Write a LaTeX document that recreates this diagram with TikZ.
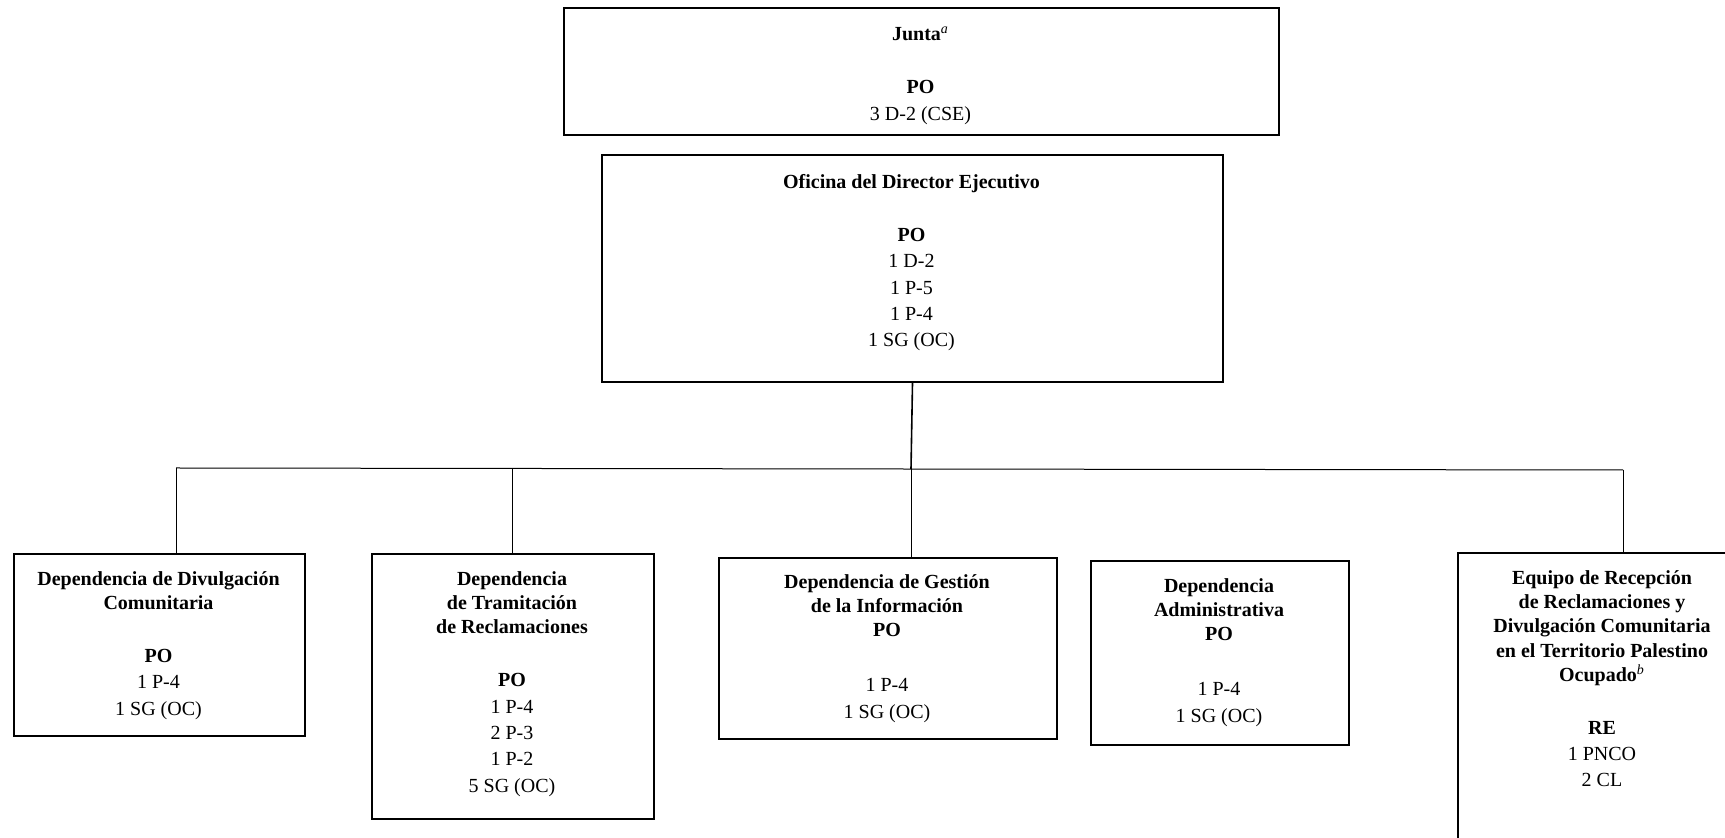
\documentclass[tikz,border=0pt]{standalone}
\usepackage{fontspec}
\setmainfont{Liberation Serif}
\begin{document}
\begin{tikzpicture}[x=0.5pt,y=-0.5pt,
  box/.style 2 args={draw, line width=1pt, inner sep=0pt, anchor=north west,
    minimum width=#1*0.5pt, minimum height=#2*0.5pt},
  lbl/.style={anchor=base, inner sep=0pt, font=\fontsize{10}{12.1}\selectfont},
  link/.style={line width=0.5pt},
  trunk/.style={line width=0.8pt}]
\useasboundingbox (0,0) rectangle (1725,838);
\clip (0,0) rectangle (1725,838);
\fill[white] (0,0) rectangle (1725,838);

% boxes
\node[box={715}{127}] (junta) at (563,7) {};
\node[box={621}{227}] (ofi) at (601,154) {};
\node[box={291}{182}] (b1) at (13,553) {};
\node[box={282}{265}] (b2) at (371,553) {};
\node[box={338}{181}] (b3) at (718,557) {};
\node[box={258}{184}] (b4) at (1090,560) {};
\node[box={293}{348}] (b5) at (1457,552) {};

% texts
\node[lbl] (tj) at (920.5,41) {\begin{tabular}[t]{@{}c@{}}\textbf{Junta}\textsuperscript{\textit{a}}\\[14.3pt]
\textbf{PO}\\[1.1pt] 3 D-2 (CSE)\end{tabular}};

\node[lbl] (to) at (911.5,188.5) {\begin{tabular}[t]{@{}c@{}}\textbf{Oficina del Director Ejecutivo}\\[14.3pt]
\textbf{PO}\\[1.1pt] 1 D-2\\[1.1pt] 1 P-5\\[1.1pt] 1 P-4\\[1.1pt] 1 SG (OC)\end{tabular}};

\node[lbl] (t1) at (158.5,585.5) {\begin{tabular}[t]{@{}c@{}}\textbf{Dependencia de Divulgación}\\
\textbf{Comunitaria}\\[14.3pt]
\textbf{PO}\\[1.1pt] 1 P-4\\[1.1pt] 1 SG (OC)\end{tabular}};

\node[lbl] (t2) at (512,585.5) {\begin{tabular}[t]{@{}c@{}}\textbf{Dependencia}\\
\textbf{de Tramitación}\\ \textbf{de Reclamaciones}\\[14.3pt]
\textbf{PO}\\[1.1pt] 1 P-4\\[1.1pt] 2 P-3\\[1.1pt] 1 P-2\\[1.1pt] 5 SG (OC)\end{tabular}};

\node[lbl] (t3) at (887,588.5) {\begin{tabular}[t]{@{}c@{}}\textbf{Dependencia de Gestión}\\
\textbf{de la Información}\\ \textbf{PO}\\[15.4pt]
1 P-4\\[1.1pt] 1 SG (OC)\end{tabular}};

\node[lbl] (t4) at (1219,592.5) {\begin{tabular}[t]{@{}c@{}}\textbf{Dependencia}\\
\textbf{Administrativa}\\ \textbf{PO}\\[15.4pt]
1 P-4\\[1.1pt] 1 SG (OC)\end{tabular}};

\node[lbl] (t5) at (1602,584.5) {\begin{tabular}[t]{@{}c@{}}\textbf{Equipo de Recepción}\\
\textbf{de Reclamaciones y}\\ \textbf{Divulgación Comunitaria}\\
\textbf{en el Territorio Palestino}\\ \textbf{Ocupado}\textsuperscript{\textit{b}}\\[14.3pt]
\textbf{RE}\\[1.1pt] 1 PNCO\\[1.1pt] 2 CL\end{tabular}};

% connectors
\coordinate (jn) at (911,469);
\coordinate (hl) at (176,468);
\coordinate (hr) at (1623,470);
\coordinate (h2) at (512,469);
\draw[trunk] (ofi.south) -- (jn);
\draw[link] (hl) -- (hr);
\draw[link] (hl) -- (hl |- b1.north);
\draw[link] (h2) -- (h2 |- b2.north);
\draw[link] (jn) -- (jn |- b3.north);
\draw[link] (hr) -- (hr |- b5.north);
\end{tikzpicture}
\end{document}
